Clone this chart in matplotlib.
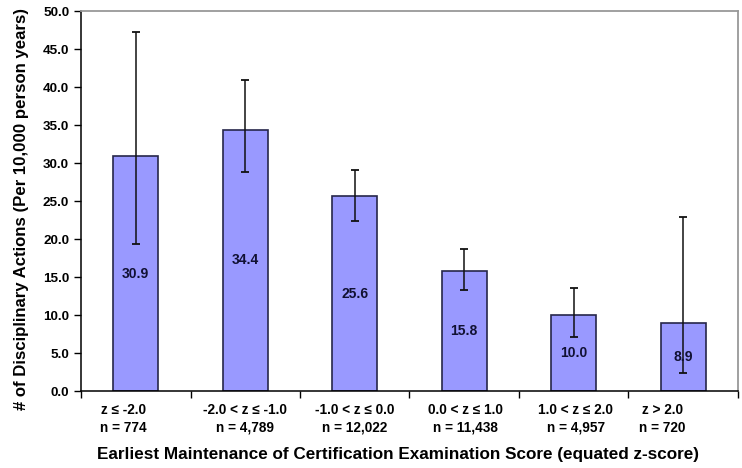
import matplotlib
matplotlib.use("Agg")
import matplotlib.pyplot as plt
import matplotlib.transforms as mtransforms
import numpy as np

plt.rcParams['font.family'] = ['Liberation Sans', 'DejaVu Sans']

categories = ["z ≤ -2.0\nn = 774", "-2.0 < z ≤ -1.0\nn = 4,789", "-1.0 < z ≤ 0.0\nn = 12,022",
              "0.0 < z ≤ 1.0\nn = 11,438", "1.0 < z ≤ 2.0\nn = 4,957", "z > 2.0\nn = 720"]
values = [30.9, 34.4, 25.6, 15.8, 10.0, 8.9]
upper = [47.2, 40.9, 29.1, 18.7, 13.6, 22.9]
lower = [19.3, 28.8, 22.4, 13.3, 7.1, 2.4]
yticks = [0, 5, 10, 15, 20, 25, 30, 35, 40, 45, 50]

fig = plt.figure(figsize=(7.42, 4.68), dpi=100)
ax = fig.add_axes([81/742, 1-391/468, (738-81)/742, (391-11)/468])

x = np.arange(len(values))
vals = np.array(values)
yerr = np.vstack([vals - np.array(lower), np.array(upper) - vals])
ax.bar(x, vals, width=0.41, color='#9999FF', edgecolor='#26264a', linewidth=1.2, zorder=2)
ax.errorbar(x, vals, yerr=yerr, fmt='none', ecolor='#111111', elinewidth=1.1,
            capsize=3.2, capthick=1.3, zorder=3)

for xi, v in zip(x, values):
    ax.text(xi, v / 2, f"{v:.1f}", ha='center', va='center', fontsize=10,
            fontweight='bold', color='#111133', zorder=4)

ax.set_xlim(-0.5, len(values) - 0.5)
ax.set_ylim(0, 50)
ax.set_yticks(yticks)
ax.set_yticklabels([f"{t:.1f}" for t in yticks], fontsize=9.7, fontweight='bold')

ax.set_xticks(np.arange(len(values) + 1) - 0.5)
ax.set_xticklabels([])
ax.set_xticks(x, minor=True)
ax.set_xticklabels(categories, minor=True, fontsize=9.8, fontweight='bold', linespacing=1.3)
ax.tick_params(axis='x', which='minor', length=0, pad=9)
ax.tick_params(axis='x', which='major', length=5, direction='out', width=1)
ax.tick_params(axis='y', length=5, direction='out', width=1)

offsets = [-12, 0, 0, 1, 2, -21]
for lab, off in zip(ax.get_xticklabels(minor=True), offsets):
    lab.set_transform(lab.get_transform() + mtransforms.ScaledTranslation(off / 100, 0, fig.dpi_scale_trans))

for s in ['left', 'bottom']:
    ax.spines[s].set_color('black')
    ax.spines[s].set_linewidth(1.1)
for s in ['top', 'right']:
    ax.spines[s].set_color('#999999')
    ax.spines[s].set_linewidth(1.3)

ax.set_ylabel("# of Disciplinary Actions (Per 10,000 person years)", fontsize=12.1,
              fontweight='bold', va='center')
ax.yaxis.set_label_coords(-0.091, 0.48)
ax.set_xlabel("Earliest Maintenance of Certification Examination Score (equated z-score)",
              fontsize=12.3, fontweight='bold', va='center')
ax.xaxis.set_label_coords(0.483, -0.168)

fig.savefig("out.png", dpi=100)
